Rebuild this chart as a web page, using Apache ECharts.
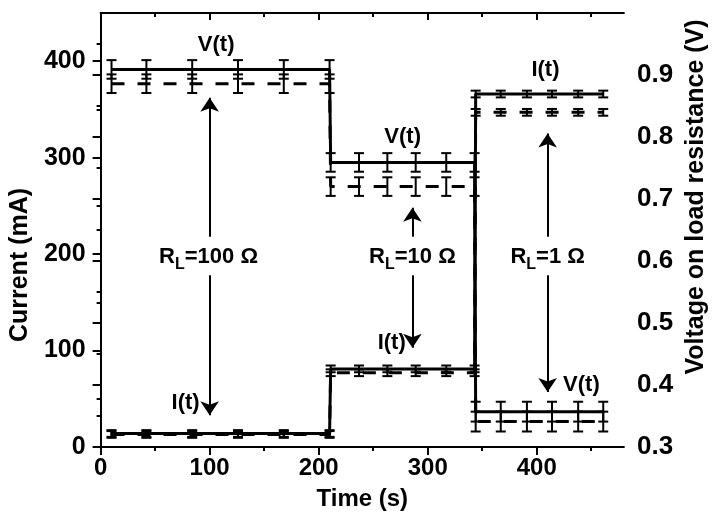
<!DOCTYPE html>
<html>
<head>
<meta charset="utf-8">
<script src="https://cdn.jsdelivr.net/npm/echarts@6/dist/echarts.min.js"></script>
<style>
html,body{margin:0;padding:0;background:#fff}
#main{width:717px;height:518px}
</style>
</head>
<body>
<div id="main"></div>
<script>
// sample times (s), each load step has 6 points, shared edges get two
var timeS = [10, 42, 84, 126, 168, 210, 211, 237, 263, 289, 317, 343, 344, 367, 391, 414, 438, 461];
// current (mA), left axis
var currentSolid  = [14, 14, 14, 14, 14, 14, 81, 81, 81, 81, 81, 81, 366, 366, 366, 366, 366, 366];
var currentDashed = [13, 13, 13, 13, 13, 13, 77, 77, 77, 77, 77, 77, 347, 347, 347, 347, 347, 347];
var currentErr    = [3.5, 3.5, 3.5, 3.5, 3.5, 3.5, 3.5, 3.5, 3.5, 3.5, 3.5, 3.5, 3.5, 3.5, 3.5, 3.5, 3.5, 3.5];
// voltage on load (V), right axis
var voltSolid  = [0.909, 0.909, 0.909, 0.909, 0.909, 0.909, 0.759, 0.759, 0.759, 0.759, 0.759, 0.759, 0.357, 0.357, 0.357, 0.357, 0.357, 0.357];
var voltDashed = [0.886, 0.886, 0.886, 0.886, 0.886, 0.886, 0.720, 0.720, 0.720, 0.720, 0.720, 0.720, 0.341, 0.341, 0.341, 0.341, 0.341, 0.341];
var voltErr    = [0.015, 0.015, 0.015, 0.015, 0.015, 0.015, 0.015, 0.015, 0.015, 0.015, 0.015, 0.015, 0.016, 0.016, 0.016, 0.016, 0.016, 0.016];

// tick labels
var timeTicks = [0, 100, 200, 300, 400];
var timeMinor = [50, 150, 250, 350, 450];
var currentTicks = [0, 100, 200, 300, 400];
var currentMinor = [50, 150, 250, 350];
var voltTicks = [0.3, 0.4, 0.5, 0.6, 0.7, 0.8, 0.9];
var voltMinor = [0.35, 0.45, 0.55, 0.65, 0.75, 0.85, 0.95];

// annotations (time, current)
var noteText    = ['V(t)', 'I(t)', 'R_L=100 Ω', 'V(t)', 'I(t)', 'R_L=10 Ω', 'I(t)', 'R_L=1 Ω', 'V(t)'];
var noteTime    = [106, 78, 99, 277, 267, 286, 408, 410, 441];
var noteCurrent = [417, 46, 197, 321, 108, 197, 391, 197, 64];
// arrows (time, from current -> to current)
var arrowTime = [100, 100, 286, 286, 410, 410];
var arrowFrom = [218, 178, 218, 178, 218, 178];
var arrowTo   = [362, 33, 248, 103, 325, 57];

var font = '"Liberation Sans", Arial, sans-serif';
var black = '#000';
function txt(size) {
	return {color: black, fontSize: size, fontWeight: 'bold', fontFamily: font};
}

function pairs(vals) {
	return timeS.map(function(t, i) { return [t, vals[i]]; });
}

function lineSeries(yIdx, vals, dashed) {
	return {
		type: 'line',
		xAxisIndex: 0,
		yAxisIndex: yIdx,
		data: pairs(vals),
		symbol: 'none',
		silent: true,
		lineStyle: {color: black, width: 3, type: dashed ? [13, 13] : 'solid'},
		z: 2
	};
}

function errRender(params, api) {
	var x = api.value(0), y = api.value(1), e = api.value(2);
	var top = api.coord([x, y + e]);
	var bot = api.coord([x, y - e]);
	var hw = 5;
	var st = {stroke: black, lineWidth: 2};
	return {
		type: 'group',
		children: [
			{type: 'line', shape: {x1: top[0], y1: top[1], x2: bot[0], y2: bot[1]}, style: st},
			{type: 'line', shape: {x1: top[0] - hw, y1: top[1], x2: top[0] + hw, y2: top[1]}, style: st},
			{type: 'line', shape: {x1: bot[0] - hw, y1: bot[1], x2: bot[0] + hw, y2: bot[1]}, style: st}
		]
	};
}

function errSeries(yIdx, vals, errs) {
	return {
		type: 'custom',
		xAxisIndex: 0,
		yAxisIndex: yIdx,
		data: timeS.map(function(t, i) { return [t, vals[i], errs[i]]; }),
		renderItem: errRender,
		encode: {x: 0, y: 1},
		clip: false,
		silent: true,
		z: 3
	};
}

function tickOnly(pos, min, max, values, len, inside) {
	return {
		type: 'value', position: pos, min: min, max: max,
		axisLine: {show: false},
		axisTick: {show: true, inside: inside, customValues: values, length: len, lineStyle: {color: black, width: 2}},
		axisLabel: {show: false},
		splitLine: {show: false}
	};
}

var myChart = echarts.init(document.getElementById('main'));
var option = {
	animation: false,
	backgroundColor: '#fff',
	grid: {left: 100, right: 80, top: 13, bottom: 71},
	xAxis: [{
		type: 'value', position: 'bottom', min: 0, max: 480,
		axisLine: {lineStyle: {color: black, width: 2}},
		axisTick: {customValues: timeTicks, length: 8, lineStyle: {color: black, width: 2}},
		axisLabel: Object.assign({customValues: timeTicks, margin: 9}, txt(24)),
		splitLine: {show: false},
		name: 'Time (s)', nameLocation: 'middle', nameGap: 40,
		nameTextStyle: txt(24)
	},
		tickOnly('bottom', 0, 480, timeMinor, 4, false),
	{
		type: 'value', position: 'top', min: 0, max: 480,
		axisLine: {lineStyle: {color: black, width: 2}},
		axisTick: {inside: true, customValues: timeTicks, length: 7, lineStyle: {color: black, width: 2}},
		axisLabel: {show: false},
		splitLine: {show: false}
	},
		tickOnly('top', 0, 480, timeMinor, 4, true)
	],
	yAxis: [{
		type: 'value', position: 'left', min: 0, max: 450,
		axisLine: {show: true, lineStyle: {color: black, width: 2}},
		axisTick: {show: true, customValues: currentTicks, length: 8, lineStyle: {color: black, width: 2}},
		axisLabel: Object.assign({customValues: currentTicks, margin: 15}, txt(25)),
		splitLine: {show: false},
		name: 'Current (mA)', nameLocation: 'middle', nameGap: 62,
		nameTextStyle: Object.assign({padding: [0, 70, 0, 0]}, txt(25))
	}, {
		type: 'value', position: 'right', min: 0.3, max: 1.0,
		axisLine: {show: true, lineStyle: {color: black, width: 2}},
		axisTick: {show: true, inside: true, customValues: voltTicks, length: 8, lineStyle: {color: black, width: 2}},
		axisLabel: Object.assign({customValues: voltTicks, margin: 13, formatter: function(v) { return v.toFixed(1); }}, txt(26)),
		splitLine: {show: false},
		name: 'Voltage on load resistance (V)', nameLocation: 'middle', nameGap: 60,
		nameTextStyle: Object.assign({padding: [0, 0, 0, 66]}, txt(25))
	},
		tickOnly('left', 0, 450, currentMinor, 4, false),
		tickOnly('right', 0.3, 1.0, voltMinor, 4, true)
	],
	series: [
		lineSeries(0, currentSolid, false),
		lineSeries(0, currentDashed, true),
		lineSeries(1, voltSolid, false),
		lineSeries(1, voltDashed, true),
		errSeries(0, currentSolid, currentErr),
		errSeries(0, currentDashed, currentErr),
		errSeries(1, voltSolid, voltErr),
		errSeries(1, voltDashed, voltErr),
		{
			// carrier for the arrows, drawn on the current axis
			type: 'line',
			xAxisIndex: 0,
			yAxisIndex: 0,
			data: [],
			silent: true,
			markLine: {
				silent: true,
				animation: false,
				symbol: ['none', 'arrow'],
				symbolSize: 14,
				label: {show: false},
				lineStyle: {color: black, width: 2, type: 'solid', opacity: 1},
				data: arrowTime.map(function(t, i) {
					return [{coord: [t, arrowFrom[i]]}, {coord: [t, arrowTo[i]]}];
				})
			},
			z: 5
		}
	]
};
myChart.setOption(option);

// text notes placed through the chart's own scales
var notes = noteText.map(function(s, i) {
	var p = myChart.convertToPixel({xAxisIndex: 0, yAxisIndex: 0}, [noteTime[i], noteCurrent[i]]);
	var rich = s.indexOf('R_L') === 0 ? '{r|R}{s|L}{r|' + s.slice(3) + '}' : '{r|' + s + '}';
	return {
		type: 'text',
		x: p[0],
		y: p[1],
		z: 10,
		silent: true,
		style: {
			text: rich,
			align: 'center',
			verticalAlign: 'middle',
			fill: black,
			rich: {
				r: {fill: black, fontSize: 22, fontWeight: 'bold', fontFamily: font},
				s: {fill: black, fontSize: 16, fontWeight: 'bold', fontFamily: font, padding: [16, 0, 0, 0]}
			}
		}
	};
});
myChart.setOption({graphic: notes});
</script>
</body>
</html>
